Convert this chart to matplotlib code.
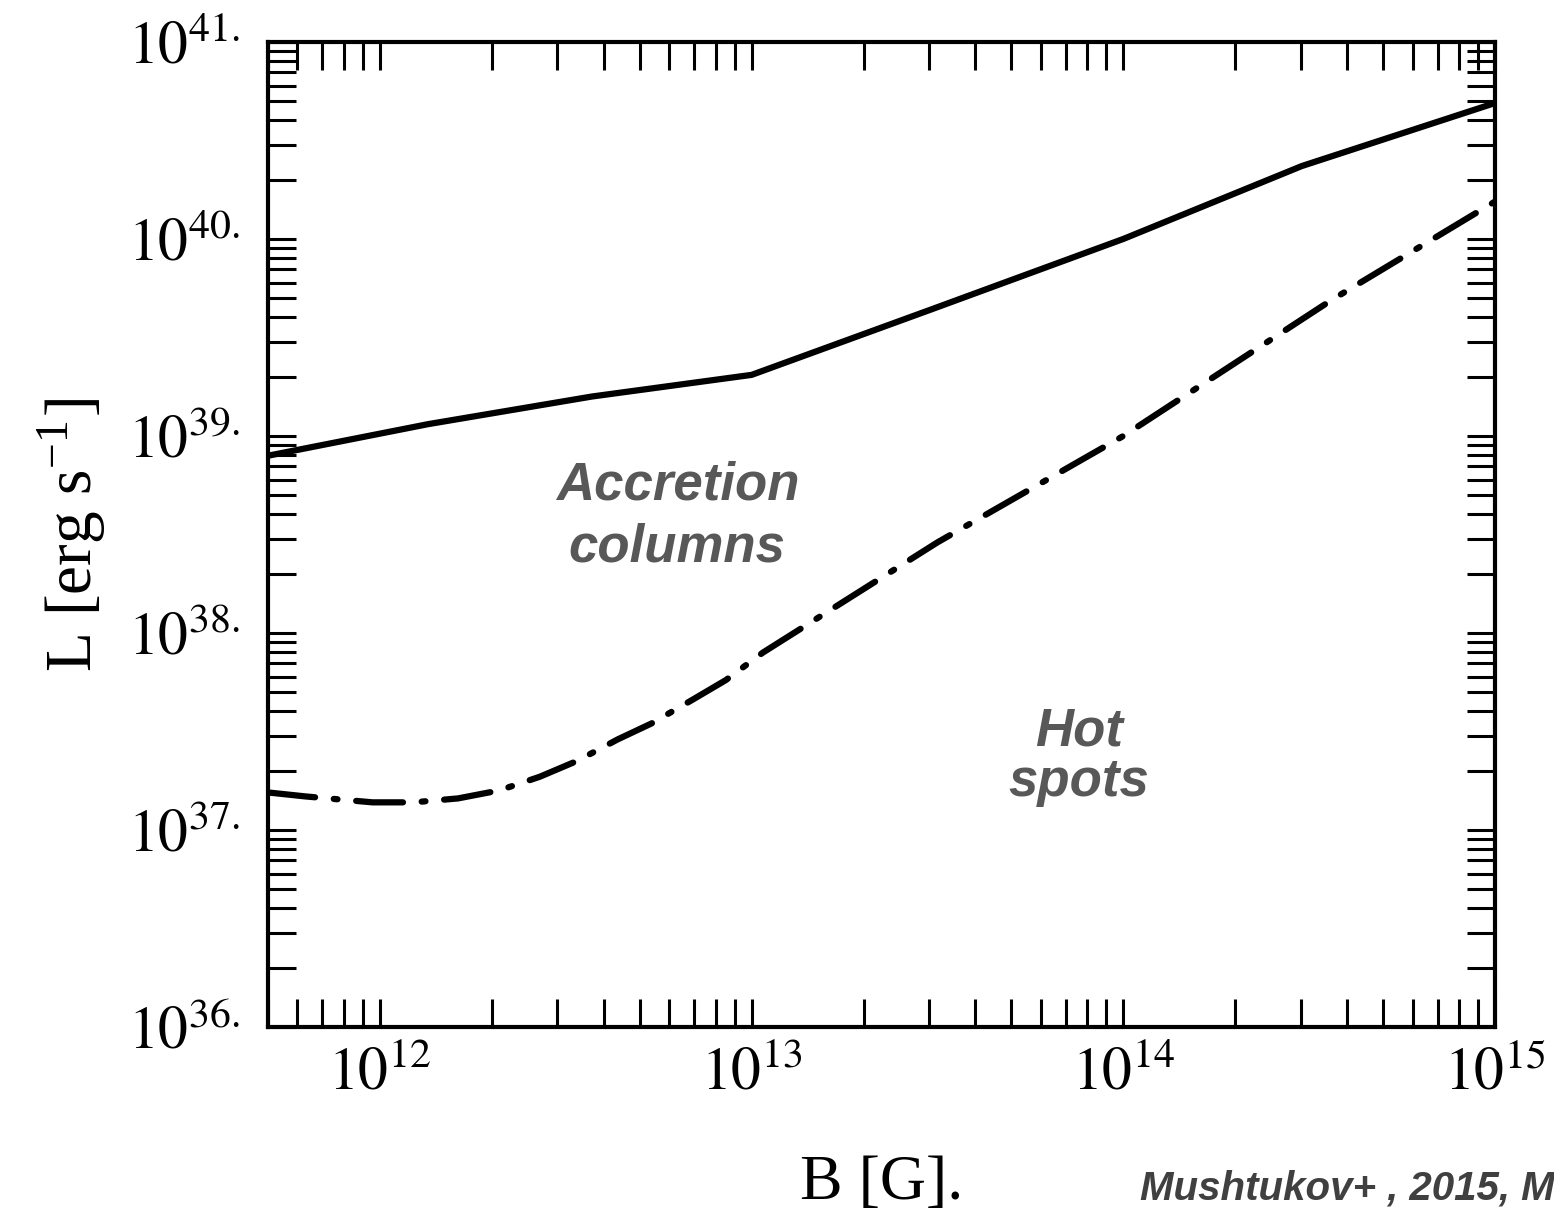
import matplotlib
matplotlib.use("Agg")
import matplotlib.pyplot as plt
import numpy as np

# values (log10 B [G], log10 L [erg/s])
col_logB = [11.70, 12.13, 12.57, 13.00, 13.48, 14.00, 14.48, 15.00]
col_logL = [38.90, 39.06, 39.20, 39.31, 39.64, 40.00, 40.37, 40.69]

spot_logB = [11.70, 11.80, 11.98, 12.09, 12.21, 12.32, 12.43, 12.53, 12.64,
             12.73, 12.84, 12.93, 13.03, 13.50, 14.00, 14.56, 15.00]
spot_logL = [37.19, 37.17, 37.14, 37.14, 37.16, 37.20, 37.27, 37.35, 37.46,
             37.54, 37.66, 37.76, 37.90, 38.46, 39.00, 39.69, 40.19]

x_ticks = [1e12, 1e13, 1e14, 1e15]
x_ticklabels = [r"$10^{12}$", r"$10^{13}$", r"$10^{14}$", r"$10^{15}$"]
y_ticks = [1e36, 1e37, 1e38, 1e39, 1e40, 1e41]
y_ticklabels = [r"$10^{%d.}$" % k for k in range(36, 42)]

plt.rcParams["mathtext.fontset"] = "stix"
plt.rcParams["font.family"] = ["Liberation Serif", "DejaVu Serif"]

fig = plt.figure(figsize=(15.54, 12.12), dpi=100)
ax = fig.add_axes([0.1725, 0.1527, 0.7896, 0.8127])

ax.plot(10 ** np.array(col_logB), 10 ** np.array(col_logL), color="k", lw=4.5,
        solid_joinstyle="round")
ax.plot(10 ** np.array(spot_logB), 10 ** np.array(spot_logL), color="k", lw=4.5,
        linestyle=(0, (7.5, 3.0, 0.6, 3.0)), dash_capstyle="round")

ax.set_xscale("log")
ax.set_yscale("log")
ax.set_xlim(5e11, 1e15)
ax.set_ylim(1e36, 1e41)

ax.set_xticks(x_ticks)
ax.set_xticklabels(x_ticklabels)
ax.set_yticks(y_ticks)
ax.set_yticklabels(y_ticklabels)
ax.xaxis.set_minor_locator(matplotlib.ticker.LogLocator(base=10, subs=np.arange(2, 10)))
ax.yaxis.set_minor_locator(matplotlib.ticker.LogLocator(base=10, subs=np.arange(2, 10)))
ax.xaxis.set_minor_formatter(matplotlib.ticker.NullFormatter())
ax.yaxis.set_minor_formatter(matplotlib.ticker.NullFormatter())

ax.tick_params(which="both", direction="in", top=True, right=True,
               length=20, width=2.2, color="k")
ax.tick_params(axis="x", which="major", labelsize=43, pad=14)
ax.tick_params(axis="y", which="major", labelsize=43, pad=20)
for sp in ax.spines.values():
    sp.set_linewidth(3)

ax.set_ylabel(r"L [erg s$^{\mathregular{-1}}$]", fontsize=47, labelpad=14)
ax.set_xlabel("B [G].", fontsize=46, labelpad=38)

txt = dict(color="#585858", fontsize=38, fontweight="bold", fontstyle="italic",
           family=["Liberation Sans", "DejaVu Sans"], ha="center", va="baseline")
ax.text(10 ** 12.80, 10 ** 38.675, "Accretion", **txt)
ax.text(10 ** 12.80, 10 ** 38.365, "columns", **txt)
ax.text(10 ** 13.88, 10 ** 37.43, "Hot", **txt)
ax.text(10 ** 13.88, 10 ** 37.17, "spots", **txt)

fig.text(1140 / 1554, 1 - 1200 / 1212, "Mushtukov+ , 2015, M", color="#404040",
         fontsize=29, fontweight="bold", fontstyle="italic",
         family=["Liberation Sans", "DejaVu Sans"], ha="left", va="baseline")

fig.savefig("out.png", dpi=100)
